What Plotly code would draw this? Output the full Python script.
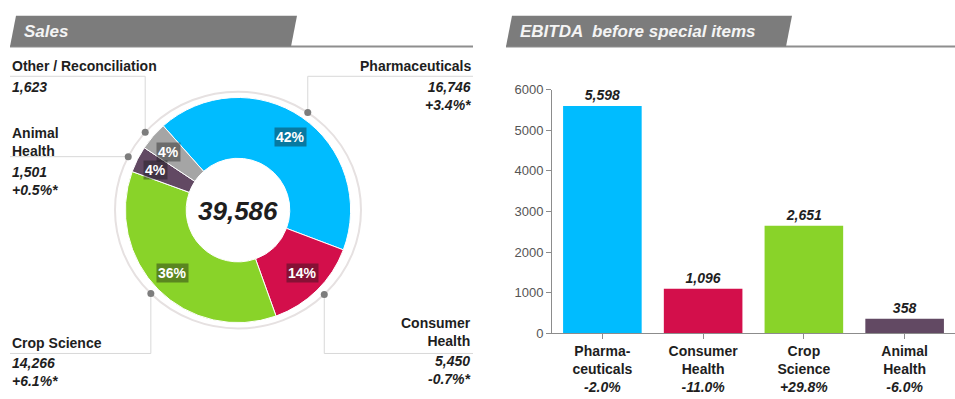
import math
import plotly.graph_objects as go

W, H = 955, 399
FONT = "Liberation Sans, Arial, sans-serif"
DARK = "#1e1e1e"

# ---------------- data ----------------
sales_segments = ["Pharmaceuticals", "Consumer Health", "Crop Science", "Animal Health", "Other / Reconciliation"]
sales_names_display = ["Pharmaceuticals", "Consumer<br>Health", "Crop Science", "Animal<br>Health", "Other / Reconciliation"]
sales_values = [16746, 5450, 14266, 1501, 1623]
sales_changes = ["+3.4%*", "-0.7%*", "+6.1%*", "+0.5%*", ""]
sales_total = 39586

ebitda_categories = ["Pharma-<br>ceuticals", "Consumer<br>Health", "Crop<br>Science", "Animal<br>Health"]
ebitda_values = [5598, 1096, 2651, 358]
ebitda_changes = ["-2.0%", "-11.0%", "+29.8%", "-6.0%"]
ebitda_yticks = [0, 1000, 2000, 3000, 4000, 5000, 6000]

seg_colors = ["#00BCFF", "#D30F4B", "#89D329", "#624963", "#A5A5A5"]

# ---------------- geometry (layout) ----------------
CX, CY = 238, 211          # donut centre (px)
R_DOM = 117                # half-size of pie domain (px)
HOLE = 0.46
R_RING = 123               # thin outer ring
R_LABEL = 92
ROT = -41.6                # start angle of first slice, deg clockwise from top

# label layout per segment: side, elbow row y, name centre y, values centre y
label_layout = [
    dict(side="right", elbow=72, name_y=61, val_y=92),
    dict(side="right", elbow=360, name_y=338, val_y=377),
    dict(side="left", elbow=360, name_y=349, val_y=379),
    dict(side="left", elbow=None, name_y=140, val_y=181),
    dict(side="left", elbow=72, name_y=61, val_y=83),
]
LEFT_X, RIGHT_X = 10, 473

fig = go.Figure()

# ---------------- donut ----------------
fig.add_trace(go.Pie(
    labels=sales_segments, values=sales_values, sort=False, direction="clockwise",
    rotation=ROT, hole=HOLE, textinfo="none", hoverinfo="label+value",
    marker=dict(colors=seg_colors, line=dict(color="white", width=1)),
    domain=dict(x=[(CX - R_DOM) / W, (CX + R_DOM) / W],
                y=[1 - (CY + R_DOM) / H, 1 - (CY - R_DOM) / H]),
    showlegend=False,
))

# angles
mids = []
acc = ROT
for v in sales_values:
    span = v / sales_total * 360
    mids.append(acc + span / 2)
    acc += span

annotations = []
shapes = []
line_x, line_y, dot_x, dot_y = [], [], [], []

for i, v in enumerate(sales_values):
    a = math.radians(mids[i])
    # percentage box
    lx = CX + R_LABEL * math.sin(a)
    ly = CY - R_LABEL * math.cos(a)
    annotations.append(dict(
        x=lx, y=ly, xref="x2", yref="y2", showarrow=False,
        text=f"<b>{round(v / sales_total * 100)}%</b>",
        font=dict(family=FONT, size=14, color="white"),
        bgcolor="rgba(20,20,20,0.40)", borderpad=1,
    ))
    # leader
    dx = CX + R_RING * math.sin(a)
    dy = CY - R_RING * math.cos(a)
    dot_x.append(dx); dot_y.append(dy)
    L = label_layout[i]
    endx = RIGHT_X if L["side"] == "right" else LEFT_X
    if L["elbow"] is None:
        line_x += [dx, endx, None]; line_y += [dy, dy, None]
    else:
        line_x += [dx, dx, endx, None]; line_y += [dy, L["elbow"], L["elbow"], None]
    xa = "right" if L["side"] == "right" else "left"
    annotations.append(dict(
        x=endx, y=L["name_y"], xref="x2", yref="y2", showarrow=False,
        xanchor=xa, yanchor="middle", align=xa,
        text=f"<b>{sales_names_display[i]}</b>",
        font=dict(family=FONT, size=14, color=DARK),
    ))
    vt = f"{v:,}" + (f"<br>{sales_changes[i]}" if sales_changes[i] else "")
    annotations.append(dict(
        x=endx, y=L["val_y"], xref="x2", yref="y2", showarrow=False,
        xanchor=xa, yanchor="middle", align=xa,
        text=f"<b><i>{vt}</i></b>",
        font=dict(family=FONT, size=14, color=DARK),
    ))

fig.add_trace(go.Scatter(x=line_x, y=line_y, mode="lines", xaxis="x2", yaxis="y2",
                         line=dict(color="#d8d8d8", width=1), hoverinfo="skip", showlegend=False))
fig.add_trace(go.Scatter(x=dot_x, y=dot_y, mode="markers", xaxis="x2", yaxis="y2",
                         marker=dict(color="#7d7d7d", size=7), hoverinfo="skip", showlegend=False))

# outer ring
shapes.append(dict(type="circle", xref="x2", yref="y2",
                   x0=CX - R_RING, x1=CX + R_RING, y0=CY - R_RING, y1=CY + R_RING,
                   line=dict(color="#e6e1e1", width=2), layer="below"))

# total in centre
annotations.append(dict(x=CX, y=CY + 1, xref="x2", yref="y2", showarrow=False,
                        text=f"<b><i>{sales_total:,}</i></b>",
                        font=dict(family=FONT, size=26, color=DARK)))

# ---------------- headers ----------------
HEAD_GRAY = "#7c7c7c"
for (x_l, x_r, x_end, title) in [(10, 297, 473, "Sales"), (506, 792, 955, "EBITDA  before special items")]:
    shapes.append(dict(type="line", xref="x2", yref="y2", x0=x_l, x1=x_end, y0=41, y1=41,
                       line=dict(color="#8e8e8e", width=2)))
    shapes.append(dict(type="path", xref="x2", yref="y2",
                       path=f"M {x_l},41 L {x_l + 6},9 L {x_r},9 L {x_r - 6},41 Z",
                       fillcolor=HEAD_GRAY, line=dict(width=0)))
    annotations.append(dict(x=x_l + 12, y=25, xref="x2", yref="y2", showarrow=False,
                            xanchor="left", yanchor="middle",
                            text=f"<b><i>{title}</i></b>",
                            font=dict(family=FONT, size=17, color="#f4f4f4")))

# ---------------- bar chart ----------------
ticktext = [f"<b>{c}<br><i>{ch}</i></b>" for c, ch in zip(ebitda_categories, ebitda_changes)]
fig.add_trace(go.Bar(
    x=list(range(len(ebitda_values))), y=ebitda_values, xaxis="x", yaxis="y",
    marker=dict(color=seg_colors[:4], line=dict(width=0)),
    texttemplate="<b><i>%{y:,}</i></b>", textposition="outside", cliponaxis=False,
    textfont=dict(family=FONT, size=14, color=DARK),
    showlegend=False, width=0.78,
))

fig.update_layout(
    width=W, height=H, margin=dict(l=0, r=0, t=0, b=0),
    paper_bgcolor="white", plot_bgcolor="rgba(0,0,0,0)",
    font=dict(family=FONT, color=DARK),
    xaxis=dict(domain=[552 / W, 1.0], anchor="y", range=[-0.5, 3.5],
               tickmode="array", tickvals=list(range(len(ebitda_values))), ticktext=ticktext,
               tickson="boundaries", ticks="outside", ticklen=5, tickcolor="#8c8c8c",
               showline=True, linecolor="#8c8c8c", linewidth=1, showgrid=False, zeroline=False,
               tickfont=dict(family=FONT, size=14, color=DARK), fixedrange=True),
    yaxis=dict(domain=[(H - 339) / H, (H - 86) / H], anchor="x", range=[0, 6000],
               tickmode="array", tickvals=ebitda_yticks, ticks="outside", ticklen=5,
               tickcolor="#8c8c8c", showline=True, linecolor="#8c8c8c", linewidth=1,
               showgrid=False, zeroline=False,
               tickfont=dict(family=FONT, size=13, color="#555555"), fixedrange=True),
    xaxis2=dict(domain=[0, 1], anchor="y2", range=[0, W], visible=False, fixedrange=True),
    yaxis2=dict(domain=[0, 1], anchor="x2", range=[H, 0], visible=False, fixedrange=True),
    annotations=annotations, shapes=shapes,
)

fig.write_html("out.html")
